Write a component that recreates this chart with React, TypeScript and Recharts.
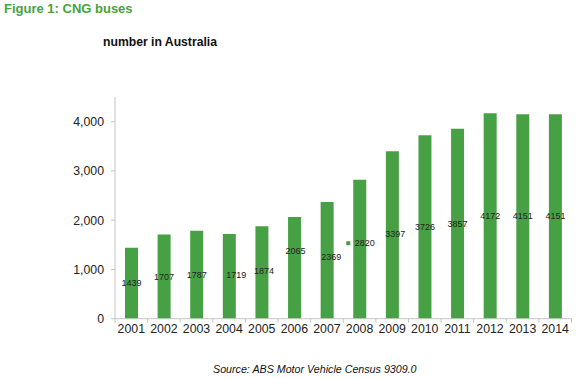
import { BarChart, Bar, XAxis, YAxis, LabelList } from "recharts";

const anos = ["2001", "2002", "2003", "2004", "2005", "2006", "2007", "2008", "2009", "2010", "2011", "2012", "2013", "2014"];
const buses = [1439, 1707, 1787, 1719, 1874, 2065, 2369, 2820, 3397, 3726, 3857, 4172, 4151, 4151];
const yTicks = [0, 1000, 2000, 3000, 4000];

// labels that were dragged around by hand in the original sheet
const empujes: Record<string, [number, number]> = {
  "2004": [7, -1],
  "2005": [2, -2],
  "2006": [1, -17],
  "2007": [4, -3],
  "2008": [5, -6],
  "2009": [3, -1],
};
const conLlave = "2008";

const datos = anos.map((a, i) => ({ ano: a, buses: buses[i] }));

const VERDE = "#47a144";
const EJE = "#c4c4c4";
const FUENTE = "'Liberation Sans', Arial, sans-serif";
const W = 578, H = 378;
const M = { top: 97, right: 6.5, bottom: 29.3, left: 0 };
const YW = 115;
const banda = (W - M.left - M.right - YW) / anos.length;

const miles = new Intl.NumberFormat("en-US");

function TickX(p: any) {
  const { x, y, payload, index, visibleTicksCount } = p;
  const y0 = y - 6;
  const h = banda / 2;
  return (
    <g>
      <line x1={x - h} x2={x - h} y1={y0} y2={y0 + 4} stroke={EJE} />
      {index === visibleTicksCount - 1 && <line x1={x + h} x2={x + h} y1={y0} y2={y0 + 4} stroke={EJE} />}
      <text x={x} y={y} dy="0.71em" textAnchor="middle" fill="#222" fontSize={12.3} fontFamily={FUENTE}>
        {payload.value}
      </text>
    </g>
  );
}

function Etiqueta(p: any) {
  const { x, y, width, height, value, index } = p;
  const ano = anos[index];
  const [dx, dy] = empujes[ano] ?? [0, 0];
  const cx = Number(x) + Number(width) / 2 + dx;
  const cy = Number(y) + Number(height) / 2 + dy;
  return (
    <g>
      {ano === conLlave && <rect x={cx - 18.5} y={cy - 2} width={4} height={4} fill={VERDE} />}
      <text x={cx} y={cy} textAnchor="middle" dominantBaseline="central" fill="#222" fontSize={9} fontFamily={FUENTE}>
        {value}
      </text>
    </g>
  );
}

export default function App() {
  return (
    <div style={{ position: "absolute", left: 0, top: 0, width: W, height: H, background: "#fff", fontFamily: FUENTE }}>
      <div style={{ position: "absolute", left: 4, top: 1, fontSize: 13, fontWeight: "bold", color: "#45a43b" }}>
        Figure 1: CNG buses
      </div>
      <div style={{ position: "absolute", left: 103, top: 35, fontSize: 12.2, fontWeight: "bold", color: "#111" }}>
        number in Australia
      </div>
      <BarChart width={W} height={H} data={datos} margin={M}>
        <XAxis dataKey="ano" axisLine={{ stroke: EJE }} tickLine={false} tickSize={4} tickMargin={2} height={30}
          tick={<TickX />} interval={0} />
        <YAxis width={YW} domain={[0, 4500]} ticks={yTicks} axisLine={{ stroke: EJE }} tickLine={{ stroke: EJE }}
          tickSize={4} tickMargin={7} tick={{ fill: "#222", fontSize: 12.3, fontFamily: FUENTE }}
          tickFormatter={(v) => miles.format(v)} />
        <Bar dataKey="buses" fill={VERDE} barSize={13} isAnimationActive={false}>
          <LabelList dataKey="buses" content={<Etiqueta />} />
        </Bar>
      </BarChart>
      <div style={{ position: "absolute", left: 213, top: 363, fontSize: 10.7, fontStyle: "italic", color: "#111" }}>
        Source: ABS Motor Vehicle Census 9309.0
      </div>
    </div>
  );
}
